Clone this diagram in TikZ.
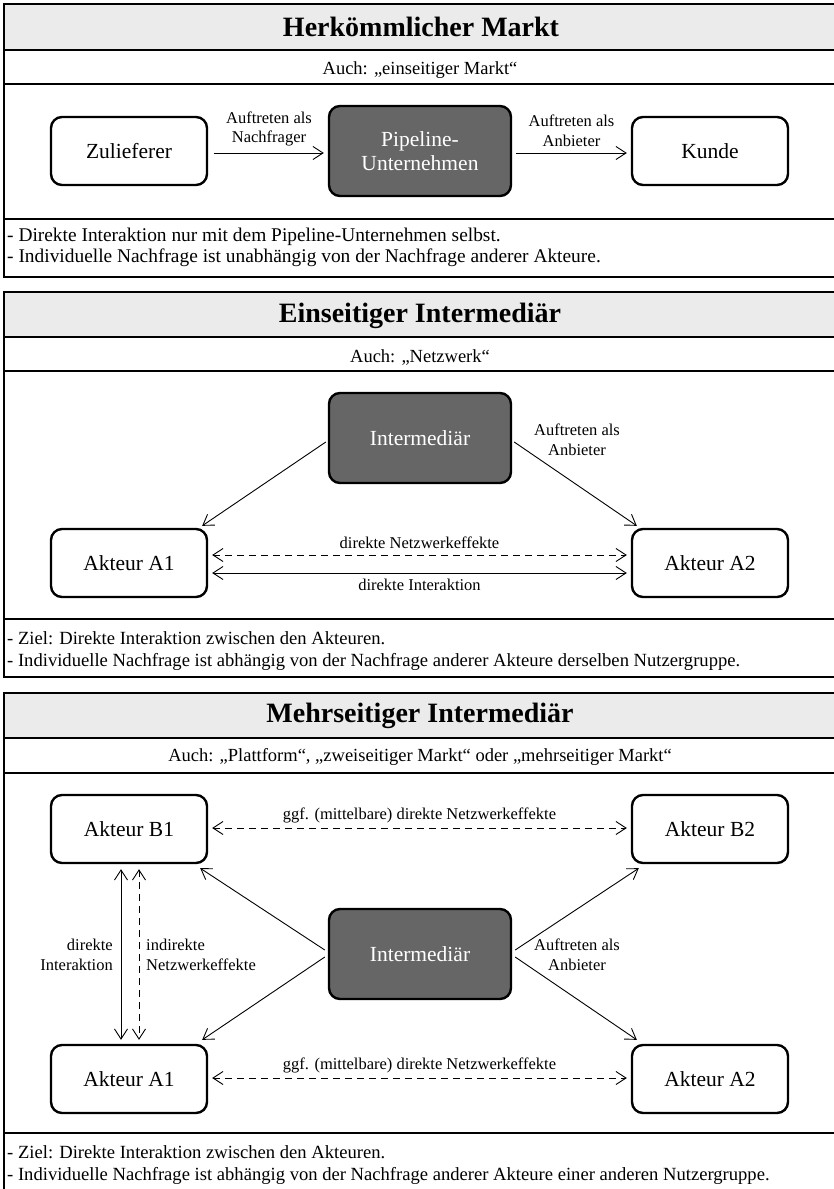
\documentclass[tikz,border=0pt]{standalone}
\usepackage{fontspec}
\setmainfont{Liberation Serif}
\usetikzlibrary{arrows.meta}
\definecolor{barfill}{HTML}{EBEBEB}
\definecolor{hubfill}{HTML}{666666}
\begin{document}
\begin{tikzpicture}[x=1pt,y=-1pt,
  frame/.style={line width=2.8pt},
  titletext/.style={font=\bfseries\fontsize{28}{32}\selectfont},
  subtext/.style={font=\fontsize{18.5}{22}\selectfont},
  notetext/.style={font=\fontsize{18.6}{22}\selectfont, align=left, anchor=west, inner sep=0pt},
  actor/.style={draw, line width=2.4pt, rounded corners=11pt, minimum width=156pt, minimum height=68pt,
    font=\fontsize{21.5}{24}\selectfont, inner sep=0pt, align=center, fill=white},
  hub/.style={actor, fill=hubfill, text=white, minimum width=182pt, minimum height=90pt},
  lbl/.style={font=\fontsize{16.5}{19.5}\selectfont, align=center, inner sep=0pt},
  tip/.tip={Straight Barb[length=10pt,width=13pt,line width=0.9pt]},
  arr/.style={line width=0.9pt, -tip},
  darr/.style={line width=0.9pt, tip-tip},
  dsh/.style={dash pattern=on 7pt off 5pt}
]
\useasboundingbox (0,0) rectangle (833,1189);

% ---------- Panel 1 ----------
\fill[barfill] (4,4) rectangle (840,50);
\draw[frame] (4,4) rectangle (840,277);
\draw[frame] (4,50) -- (840,50);
\draw[frame] (4,84) -- (840,84);
\draw[frame] (4,219) -- (840,219);
\node[titletext] (t1) at (421,27) {Herkömmlicher Markt};
\node[subtext] (s1) at (420,70) {Auch: „einseitiger Markt“};
\node[actor] (zu) at (129,151) {Zulieferer};
\node[hub] (pu) at (420,151) {Pipeline-\\Unternehmen};
\node[actor] (ku) at (710,151) {Kunde};
\draw[arr] ([xshift=6pt,yshift=-2pt]zu.east) -- ([xshift=-4pt,yshift=-2pt]pu.west)
  node[lbl, midway, above=6pt] (l1) {Auftreten als\\Nachfrager};
\draw[arr] ([xshift=4pt,yshift=-2pt]pu.east) -- ([xshift=-4pt,yshift=-2pt]ku.west)
  node[lbl, midway, above=6pt] (l2) {Auftreten als\\Anbieter};
\node[notetext, font=\fontsize{19.4}{21.5}\selectfont] (n1) at (7,247.5) {- Direkte Interaktion nur mit dem Pipeline-Unternehmen selbst.\\- Individuelle Nachfrage ist unabhängig von der Nachfrage anderer Akteure.};

% ---------- Panel 2 ----------
\fill[barfill] (4,292) rectangle (840,337);
\draw[frame] (4,292) rectangle (840,677);
\draw[frame] (4,337) -- (840,337);
\draw[frame] (4,371) -- (840,371);
\draw[frame] (4,619) -- (840,619);
\node[titletext] (t2) at (420,316) {Einseitiger Intermediär};
\node[subtext] (s2) at (420,357) {Auch: „Netzwerk“};
\node[hub] (im2) at (420,438) {Intermediär};
\node[actor] (a21) at (129,563) {Akteur A1};
\node[actor] (a22) at (710,563) {Akteur A2};
\draw[arr] ([xshift=-2pt,yshift=-4pt]im2.west) -- ([shift={(-6pt,2pt)}]a21.north east);
\draw[arr] ([xshift=2pt,yshift=-4pt]im2.east) -- ([shift={(6pt,2pt)}]a22.north west);
\node[lbl] (l3) at (577,440) {Auftreten als\\Anbieter};
\draw[darr,dsh] ([xshift=4pt,yshift=8pt]a21.east) -- ([xshift=-4pt,yshift=8pt]a22.west)
  node[lbl, midway, above=6pt] (l4) {direkte Netzwerkeffekte};
\draw[darr] ([xshift=4pt,yshift=-10pt]a21.east) -- ([xshift=-4pt,yshift=-10pt]a22.west)
  node[lbl, midway, below=6pt] (l5) {direkte Interaktion};
\node[notetext] (n2) at (7,651.5) {- Ziel: Direkte Interaktion zwischen den Akteuren.\\- Individuelle Nachfrage ist abhängig von der Nachfrage anderer Akteure derselben Nutzergruppe.};

% ---------- Panel 3 ----------
\fill[barfill] (4,693) rectangle (840,738);
\draw[frame] (4,693) rectangle (840,1195);
\draw[frame] (4,738) -- (840,738);
\draw[frame] (4,773) -- (840,773);
\draw[frame] (4,1133) -- (840,1133);
\node[titletext] (t3) at (420,716) {Mehrseitiger Intermediär};
\node[subtext] (s3) at (420,757) {Auch: „Plattform“, „zweiseitiger Markt“ oder „mehrseitiger Markt“};
\node[actor] (b31) at (129,829) {Akteur B1};
\node[actor] (b32) at (710,829) {Akteur B2};
\node[actor] (a31) at (129,1079) {Akteur A1};
\node[actor] (a32) at (710,1079) {Akteur A2};
\node[hub] (im3) at (420,954) {Intermediär};
\draw[arr] ([xshift=-3pt,yshift=4pt]im3.west) -- ([shift={(-8pt,-4pt)}]b31.south east);
\draw[arr] ([xshift=-3pt,yshift=-3pt]im3.west) -- ([shift={(-6pt,4pt)}]a31.north east);
\draw[arr] ([xshift=3pt,yshift=4pt]im3.east) -- ([shift={(8pt,-4pt)}]b32.south west);
\draw[arr] ([xshift=3pt,yshift=-3pt]im3.east) -- ([shift={(6pt,4pt)}]a32.north west);
\node[lbl] (l6) at (577,955) {Auftreten als\\Anbieter};
\draw[darr,dsh] ([xshift=4pt,yshift=1pt]b31.east) -- ([xshift=-4pt,yshift=1pt]b32.west)
  node[lbl, midway, above=5pt] (l7) {ggf. (mittelbare) direkte Netzwerkeffekte};
\draw[darr,dsh] ([xshift=4pt,yshift=1pt]a31.east) -- ([xshift=-4pt,yshift=1pt]a32.west)
  node[lbl, midway, above=5pt] (l8) {ggf. (mittelbare) direkte Netzwerkeffekte};
\draw[darr] ([xshift=-8pt,yshift=-5pt]b31.south) -- ([xshift=-8pt,yshift=4pt]a31.north);
\draw[darr,dsh] ([xshift=10pt,yshift=-5pt]b31.south) -- ([xshift=10pt,yshift=4pt]a31.north);
\node[lbl, align=right, anchor=east] (l9) at (113,955) {direkte\\Interaktion};
\node[lbl, align=left, anchor=west] (l10) at (146,955) {indirekte\\Netzwerkeffekte};
\node[notetext] (n3) at (7,1165) {- Ziel: Direkte Interaktion zwischen den Akteuren.\\- Individuelle Nachfrage ist abhängig von der Nachfrage anderer Akteure einer anderen Nutzergruppe.};
\end{tikzpicture}
\end{document}
